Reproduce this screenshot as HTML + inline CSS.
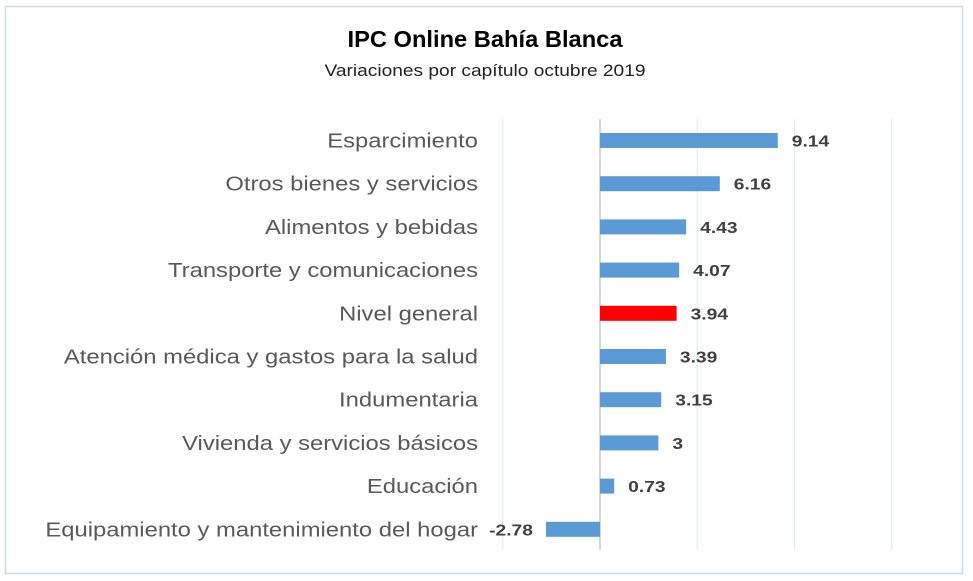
<!DOCTYPE html>
<html><head><meta charset="utf-8"><style>
body{margin:0;background:#fff;}
svg{display:block;font-family:"Liberation Sans",sans-serif;}
</style></head><body>
<svg width="973" height="581">
<rect x="5.5" y="6.5" width="957" height="567" fill="#fff" stroke="#c9dcef" stroke-width="1.5"/>
<text id="title" x="485" y="47" text-anchor="middle" font-size="23" font-weight="bold" fill="#000">IPC Online Bahía Blanca</text>
<text id="sub" x="485" y="76" text-anchor="middle" font-size="17" fill="#222">Variaciones por capítulo octubre 2019</text>
<g id="grid"></g><g id="bars"></g>
</svg>
<script>
const categories=["Esparcimiento","Otros bienes y servicios","Alimentos y bebidas","Transporte y comunicaciones","Nivel general","Atención médica y gastos para la salud","Indumentaria","Vivienda y servicios básicos","Educación","Equipamiento y mantenimiento del hogar"];
const values=[9.14,6.16,4.43,4.07,3.94,3.39,3.15,3,0.73,-2.78];
const valueLabels=["9.14","6.16","4.43","4.07","3.94","3.39","3.15","3","0.73","-2.78"];
const gridTicks=[-5,0,5,10,15];
const ns="http://www.w3.org/2000/svg";
const x=v=>600+v*19.45;
const yc=i=>140.5+i*43.2;
function mk(t,a,p){const e=document.createElementNS(ns,t);for(const k in a)e.setAttribute(k,a[k]);p.appendChild(e);return e;}
function stretch(el,target){const w=el.getComputedTextLength();if(w>0){el.setAttribute('textLength',target(w));el.setAttribute('lengthAdjust','spacingAndGlyphs');}}
const grid=document.getElementById('grid'),bars=document.getElementById('bars');
gridTicks.forEach(t=>{
 const l=mk('line',{x1:x(t),x2:x(t),y1:119,y2:550,stroke:t===0?'#c8c8c8':'#dbe8f5','stroke-width':t===0?1.5:1},grid);
 
 
});
categories.forEach((c,i)=>{
 const v=values[i];
 const r=mk('rect',{x:Math.min(x(0),x(v)),y:yc(i)-7.5,width:Math.abs(x(v)-x(0)),height:15,fill:c==="Nivel general"?'#ff0000':'#5b9bd5'},bars);
 
 
 const lb=mk('text',{x:478,y:yc(i)+7,'text-anchor':'end','font-size':20,fill:'#595959'},bars);
 lb.textContent=c;
 
 
 stretch(lb,w=>w*1.19);
 const vl=mk('text',{x:v>=0?x(v)+14:x(v)-13,y:yc(i)+6,'text-anchor':v>=0?'start':'end','font-size':16,'font-weight':'bold',fill:'#404040'},bars);
 vl.textContent=valueLabels[i];
 
 
 stretch(vl,w=>w*1.2);
});
stretch(document.getElementById('title'),()=>275);
stretch(document.getElementById('sub'),()=>321);
</script>
</body></html>
